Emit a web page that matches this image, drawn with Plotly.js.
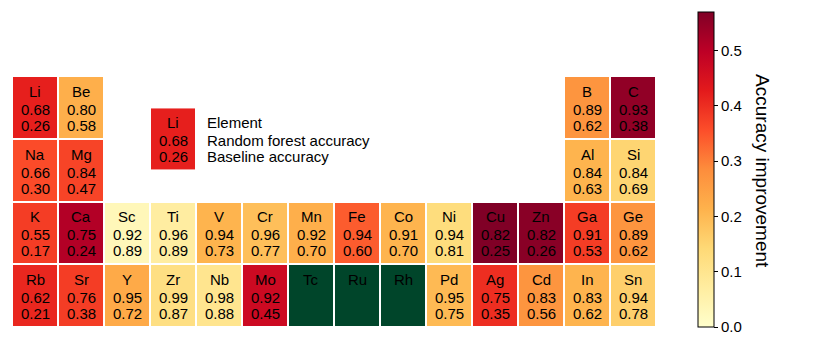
<!DOCTYPE html>
<html>
<head>
<meta charset="utf-8">
<script src="https://cdn.plot.ly/plotly-3.0.1.min.js"></script>
<style>
  html, body { margin: 0; padding: 0; background: #fff; }
  #chart { width: 830px; height: 346px; }
</style>
</head>
<body>
<div id="chart"></div>
<script>
// element data read off the table
const symbols = ["Li", "Be", "B", "C",
  "Na", "Mg", "Al", "Si",
  "K", "Ca", "Sc", "Ti", "V", "Cr", "Mn", "Fe", "Co", "Ni", "Cu", "Zn", "Ga", "Ge",
  "Rb", "Sr", "Y", "Zr", "Nb", "Mo", "Tc", "Ru", "Rh", "Pd", "Ag", "Cd", "In", "Sn"];
const groups = [1, 2, 13, 14,
  1, 2, 13, 14,
  1, 2, 3, 4, 5, 6, 7, 8, 9, 10, 11, 12, 13, 14,
  1, 2, 3, 4, 5, 6, 7, 8, 9, 10, 11, 12, 13, 14];
const periods = [2, 2, 2, 2,
  3, 3, 3, 3,
  4, 4, 4, 4, 4, 4, 4, 4, 4, 4, 4, 4, 4, 4,
  5, 5, 5, 5, 5, 5, 5, 5, 5, 5, 5, 5, 5, 5];
const rfAccuracy = [0.68, 0.80, 0.89, 0.93,
  0.66, 0.84, 0.84, 0.84,
  0.55, 0.75, 0.92, 0.96, 0.94, 0.96, 0.92, 0.94, 0.91, 0.94, 0.82, 0.82, 0.91, 0.89,
  0.62, 0.76, 0.95, 0.99, 0.98, 0.92, null, null, null, 0.95, 0.75, 0.83, 0.83, 0.94];
const baseAccuracy = [0.26, 0.58, 0.62, 0.38,
  0.30, 0.47, 0.63, 0.69,
  0.17, 0.24, 0.89, 0.89, 0.73, 0.77, 0.70, 0.60, 0.70, 0.81, 0.25, 0.26, 0.53, 0.62,
  0.21, 0.38, 0.72, 0.87, 0.88, 0.45, null, null, null, 0.75, 0.35, 0.56, 0.62, 0.78];

const legendLines = ["Element", "Random forest accuracy", "Baseline accuracy"];

const ylOrRd = [
  [0.0, "#ffffcc"], [0.125, "#ffeda0"], [0.25, "#fed976"], [0.375, "#feb24c"],
  [0.5, "#fd8d3c"], [0.625, "#fc4e2a"], [0.75, "#e31a1c"], [0.875, "#bd0026"], [1.0, "#800026"]
];
const missingColor = "#00452a";

const nCols = 14;
const nRows = 4;
const fontFamily = "Liberation Sans, Arial, sans-serif";
// vertical offsets (px) of the three text lines inside a cell
const lineShifts = [16, -2, -18];

function emptyGrid() {
  return Array.from({ length: nRows }, () => Array(nCols).fill(null));
}

const zGrid = emptyGrid();
const missGrid = emptyGrid();
const improvements = [];
const annotations = [];

function addLines(x, y, lines, anchor) {
  lines.forEach((txt, k) => {
    annotations.push({
      x: x, y: y, xref: "x", yref: "y",
      xanchor: anchor, yanchor: "middle",
      yshift: lineShifts[k],
      text: txt, showarrow: false,
      font: { family: fontFamily, size: 15, color: "#000" }
    });
  });
}

symbols.forEach((sym, i) => {
  const r = periods[i] - 2;
  const c = groups[i] - 1;
  if (rfAccuracy[i] === null) {
    missGrid[r][c] = 1;
    addLines(c, r, [sym], "center");
  } else {
    improvements.push(rfAccuracy[i] - baseAccuracy[i]);
    zGrid[r][c] = rfAccuracy[i] - baseAccuracy[i];
    addLines(c, r, [sym, rfAccuracy[i].toFixed(2), baseAccuracy[i].toFixed(2)], "center");
  }
});

// key cell (a copy of Li) and its explanation
const keyIdx = 0;
const keyX = 3, keyY = 0.5;
addLines(keyX, keyY,
  [symbols[keyIdx], rfAccuracy[keyIdx].toFixed(2), baseAccuracy[keyIdx].toFixed(2)], "center");
addLines(3.7, keyY, legendLines, "left");

annotations.push({
  x: 1.165, y: 0.62, xref: "paper", yref: "paper",
  xanchor: "center", yanchor: "middle",
  text: "Accuracy improvement",
  textangle: 90,
  showarrow: false,
  font: { family: fontFamily, size: 19, color: "#000" }
});

const zMax = Math.max(...improvements);
const xs = Array.from({ length: nCols }, (_, i) => i);
const ys = Array.from({ length: nRows }, (_, i) => i);

const traces = [
  {
    type: "heatmap",
    x: xs, y: ys, z: zGrid,
    colorscale: ylOrRd,
    zmin: 0, zmax: zMax,
    xgap: 2, ygap: 2,
    hoverinfo: "skip",
    colorbar: {
      x: 1.065, xanchor: "left", xpad: 0,
      y: 0, yanchor: "bottom", ypad: 0,
      len: 1.253, lenmode: "fraction",
      thickness: 16,
      outlinewidth: 1, outlinecolor: "#000",
      ticks: "outside", ticklen: 4, tickcolor: "#000",
      tickvals: [0, 0.1, 0.2, 0.3, 0.4, 0.5],
      tickformat: ".1f",
      tickfont: { family: fontFamily, size: 15, color: "#000" }
    }
  },
  {
    type: "heatmap",
    x: xs, y: ys, z: missGrid,
    colorscale: [[0, missingColor], [1, missingColor]],
    showscale: false,
    xgap: 2, ygap: 2,
    hoverinfo: "skip"
  },
  {
    type: "heatmap",
    x: [keyX], y: [keyY], z: [[zGrid[0][0]]],
    colorscale: ylOrRd,
    zmin: 0, zmax: zMax,
    showscale: false,
    xgap: 2, ygap: 2,
    hoverinfo: "skip"
  }
];

const layout = {
  width: 830,
  height: 346,
  margin: { l: 12, r: 174, t: 74, b: 19 },
  paper_bgcolor: "#fff",
  plot_bgcolor: "#fff",
  font: { family: fontFamily, color: "#000" },
  xaxis: { range: [-0.5, 13.5], visible: false, fixedrange: true },
  yaxis: { range: [3.5, -0.5], visible: false, fixedrange: true },
  annotations: annotations
};

Plotly.newPlot("chart", traces, layout, { staticPlot: true });
</script>
</body>
</html>
